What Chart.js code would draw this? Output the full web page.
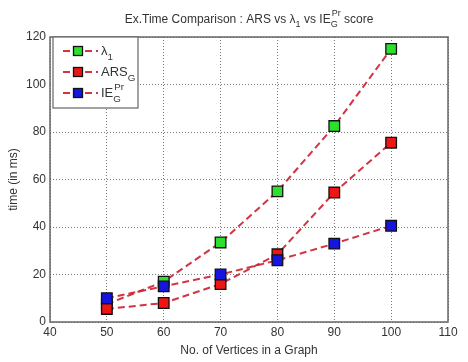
<!DOCTYPE html>
<html>
<head>
<meta charset="utf-8">
<script src="https://cdn.jsdelivr.net/npm/chart.js@4"></script>
<style>
  html, body { margin: 0; padding: 0; background: #fff; }
  #wrap { width: 468px; height: 362px; }
</style>
</head>
<body>
<div id="wrap"><canvas id="c" width="468" height="362"></canvas></div>
<script>
// data
const vertices = [50, 60, 70, 80, 90, 100];
const lambdaTimes = [7.5, 17, 33.5, 55, 82.5, 115];
const arsTimes = [5.5, 8, 16, 28.5, 54.5, 75.5];
const ieTimes = [10, 15, 20, 26, 33, 40.5];
const xTicks = [40, 50, 60, 70, 80, 90, 100, 110];
const yTicks = [0, 20, 40, 60, 80, 100, 120];

const lineRed = 'rgba(205, 30, 45, 0.9)';
const font = '"Liberation Sans", Arial, sans-serif';

// draws text with subscripts / superscripts, returns width
function richText(ctx, parts, x, y, size, draw) {
  let cx = x;
  parts.forEach(p => {
    ctx.font = size + 'px ' + font;
    const w = ctx.measureText(p.t).width;
    if (draw) ctx.fillText(p.t, cx, y);
    cx += w;
    let extra = 0;
    ctx.font = (size * 0.75) + 'px ' + font;
    if (p.sub) {
      const sw = ctx.measureText(p.sub).width;
      if (draw) ctx.fillText(p.sub, cx, y + size * 0.35);
      extra = Math.max(extra, sw);
    }
    if (p.sup) {
      const sw = ctx.measureText(p.sup).width;
      if (draw) ctx.fillText(p.sup, cx + 1, y - size * 0.55);
      extra = Math.max(extra, sw + 1);
    }
    cx += extra;
  });
  return cx - x;
}

const titleParts = [
  {t: 'Ex.Time Comparison : ARS vs λ', sub: '1'},
  {t: ' vs IE', sub: 'G', sup: 'Pr'},
  {t: ' score'}
];

const legendItems = [
  {parts: [{t: 'λ', sub: '1'}], fill: '#2ee02e'},
  {parts: [{t: 'ARS', sub: 'G'}], fill: '#ee1515'},
  {parts: [{t: 'IE', sub: 'G', sup: 'Pr'}], fill: '#1515dd'}
];

const decor = {
  id: 'decor',
  afterDraw(chart) {
    const ctx = chart.ctx;
    const a = chart.chartArea;
    ctx.save();
    // frame
    ctx.strokeStyle = '#666';
    ctx.lineWidth = 1.5;
    ctx.strokeRect(a.left, a.top, a.right - a.left, a.bottom - a.top);

    // title
    ctx.fillStyle = '#333';
    ctx.textBaseline = 'alphabetic';
    ctx.textAlign = 'left';
    const tw = richText(ctx, titleParts, 0, 0, 12, false);
    richText(ctx, titleParts, (a.left + a.right) / 2 - tw / 2, 23, 12, true);

    // legend box
    const lx = a.left + 3, ly = a.top, lw = 85, lh = 71;
    ctx.fillStyle = '#fff';
    ctx.fillRect(lx, ly, lw, lh);
    ctx.strokeStyle = '#666';
    ctx.lineWidth = 1.2;
    ctx.strokeRect(lx, ly, lw, lh);
    legendItems.forEach((it, i) => {
      const yy = ly + 14 + i * 21;
      ctx.strokeStyle = lineRed;
      ctx.lineWidth = 2;
      ctx.setLineDash([7, 4]);
      ctx.beginPath();
      ctx.moveTo(lx + 10, yy);
      ctx.lineTo(lx + 45, yy);
      ctx.stroke();
      ctx.setLineDash([]);
      ctx.fillStyle = it.fill;
      ctx.fillRect(lx + 20.5, yy - 4.5, 9, 9);
      ctx.strokeStyle = '#111';
      ctx.lineWidth = 1.3;
      ctx.strokeRect(lx + 20.5, yy - 4.5, 9, 9);
      ctx.fillStyle = '#333';
      richText(ctx, it.parts, lx + 48, yy + 4, 13, true);
    });
    ctx.restore();
  }
};

function series(values, fill, order) {
  return {
    data: vertices.map((v, i) => ({x: v, y: values[i]})),
    order: order,
    borderColor: lineRed,
    borderWidth: 2,
    borderDash: [7, 4],
    pointStyle: 'rect',
    pointRadius: 7.5,
    pointHoverRadius: 7.5,
    pointBackgroundColor: fill,
    pointBorderColor: '#111',
    pointBorderWidth: 1.3,
    tension: 0,
    fill: false
  };
}

new Chart(document.getElementById('c'), {
  type: 'line',
  data: {
    datasets: [
      series(lambdaTimes, legendItems[0].fill, 3),
      series(arsTimes, legendItems[1].fill, 2),
      series(ieTimes, legendItems[2].fill, 1)
    ]
  },
  options: {
    responsive: false,
    animation: false,
    layout: { padding: { top: 37, right: 20, left: 0, bottom: 0 } },
    plugins: { legend: { display: false }, title: { display: false }, tooltip: { enabled: false } },
    scales: {
      x: {
        type: 'linear',
        min: 40, max: 110,
        afterBuildTicks: s => { s.ticks = xTicks.map(v => ({value: v})); },
        afterFit: s => { s.height = 40; },
        ticks: { color: '#333', font: { family: font, size: 12 }, padding: 3 },
        grid: { color: '#777', drawTicks: false },
        border: { display: false, dash: [1, 2] },
        title: { display: true, text: 'No. of Vertices in a Graph', color: '#333', font: { family: font, size: 12 }, padding: { top: 1 } }
      },
      y: {
        min: 0, max: 120,
        afterBuildTicks: s => { s.ticks = yTicks.map(v => ({value: v})); },
        afterFit: s => { s.width = 50; },
        ticks: { color: '#333', font: { family: font, size: 12 }, padding: 4 },
        grid: { color: '#777', drawTicks: false },
        border: { display: false, dash: [1, 2] },
        title: { display: true, text: 'time (in ms)', color: '#333', font: { family: font, size: 12 }, padding: { top: 6, bottom: 2 } }
      }
    }
  },
  plugins: [decor]
});
</script>
</body>
</html>
